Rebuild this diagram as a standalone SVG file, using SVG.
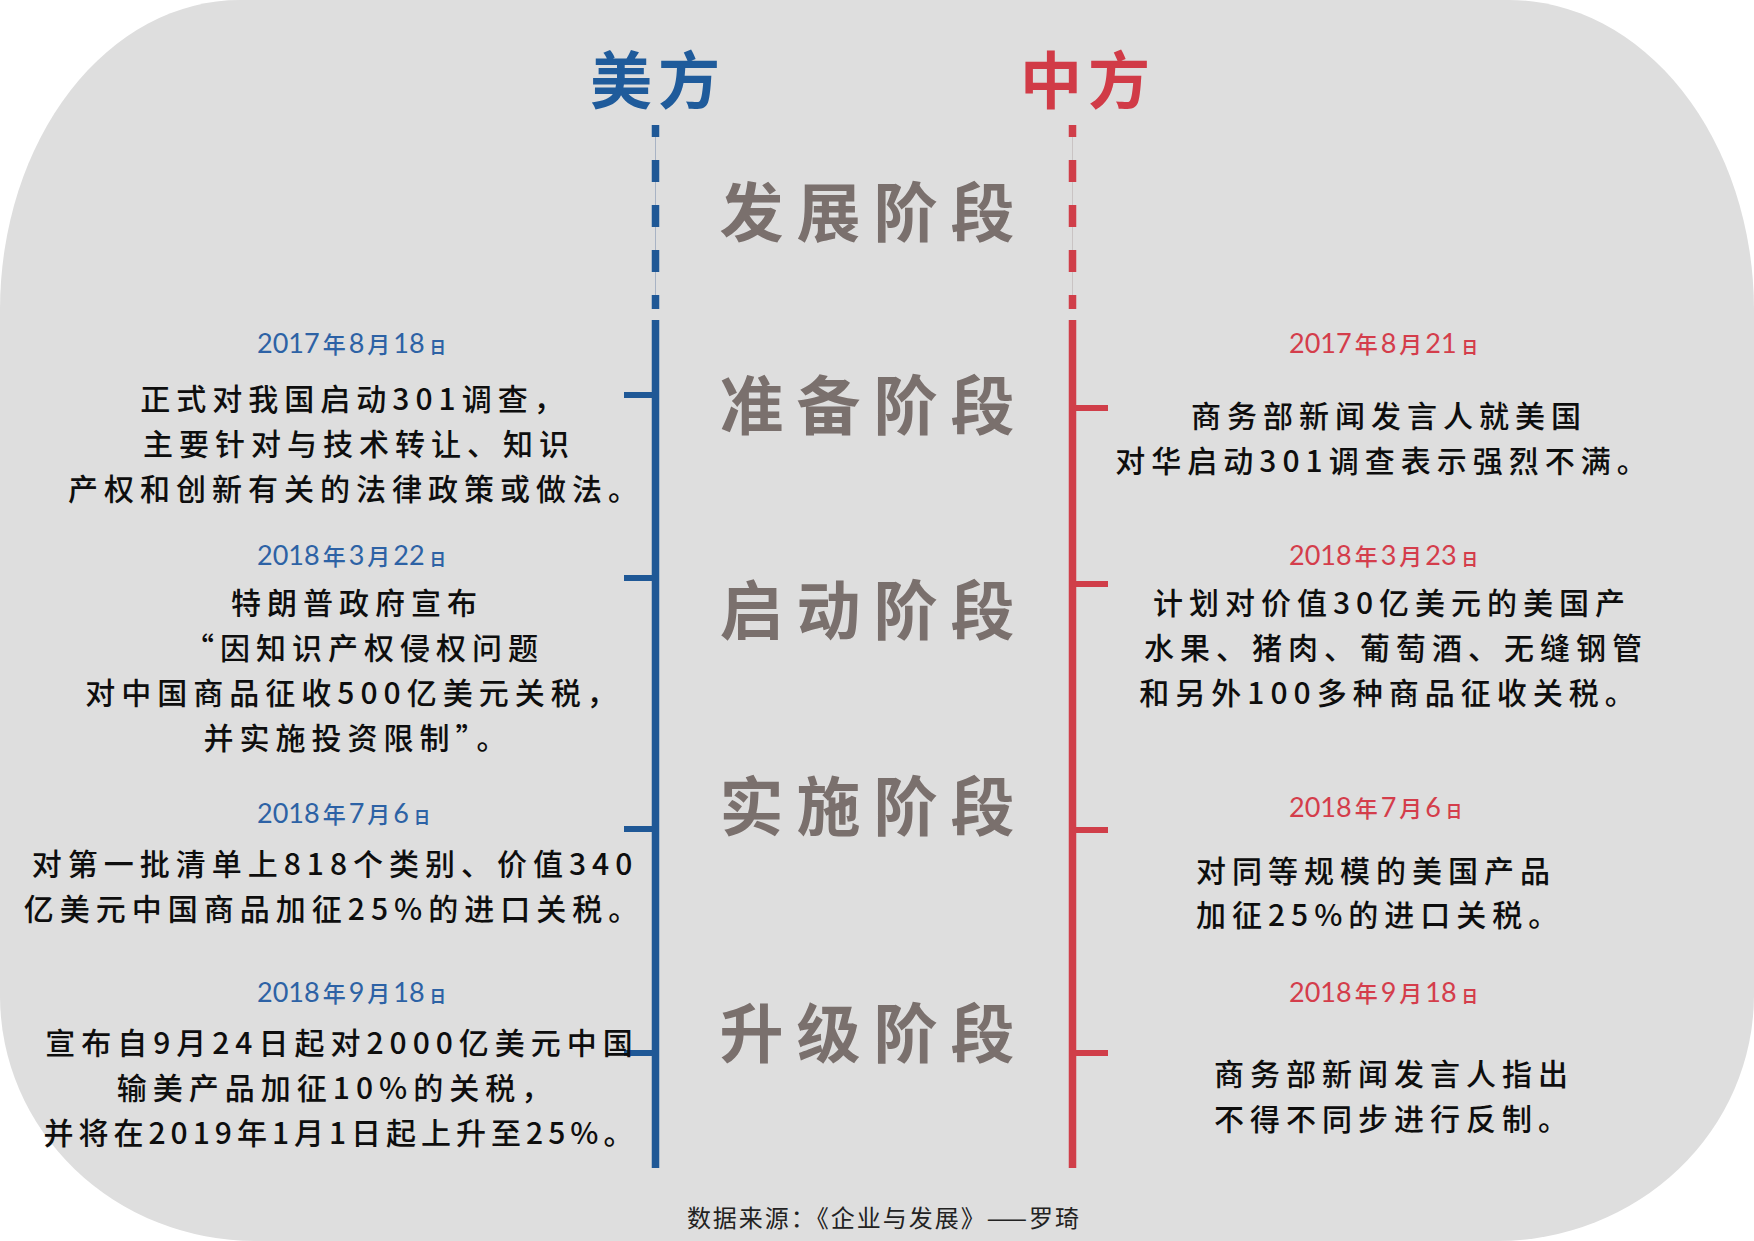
<svg xmlns="http://www.w3.org/2000/svg" width="1754" height="1241" viewBox="0 0 1754 1241">
<style>
.bg{fill:#dedede}
.title{font-family:"Noto Sans CJK SC","Noto Sans",sans-serif;font-size:62px;font-weight:700;letter-spacing:6px;text-anchor:middle}
.stage{font-family:"Noto Sans CJK SC","Noto Sans",sans-serif;font-size:64px;font-weight:700;fill:#7a706d;letter-spacing:13px;text-anchor:middle}
.body{font-family:"Noto Sans CJK SC","Noto Sans",sans-serif;font-size:30px;font-weight:500;fill:#0e0e0e;letter-spacing:6px}
.mid{text-anchor:middle}
.date{font-family:Lato,"Noto Sans CJK SC",sans-serif;font-size:27px}
.dc{font-family:"Noto Sans CJK SC",sans-serif;font-size:23px;font-weight:500}
.dd{font-family:"Noto Sans CJK SC",sans-serif;font-size:16px;font-weight:700}
.blueT{fill:#2d62a5}
.redT{fill:#d43d4b}
.src{font-family:"Noto Sans CJK SC","Noto Sans",sans-serif;font-size:24px;fill:#222;letter-spacing:2px;text-anchor:middle}
.lb{stroke:#1f5896;stroke-width:7.5;fill:none}
.lr{stroke:#d03e49;stroke-width:7.5;fill:none}
.tb{stroke:#1f5896;stroke-width:6}
.tr{stroke:#d03e49;stroke-width:6}
.dash{stroke-dasharray:22 23;stroke-dashoffset:10}
</style>
<path class="bg" d="M240,0 H1509 A245,310 0 0 1 1754,310 V995 A257,246 0 0 1 1497,1241 H255 A255,245 0 0 1 0,996 V310 A240,310 0 0 1 240,0 Z"/>

<g id="connectors">
  <line x1="655.5" y1="125" x2="655.5" y2="309" stroke="#a8b3c4" stroke-width="1"/>
  <line class="lb dash" x1="655.5" y1="125" x2="655.5" y2="309"/>
  <line class="lb" x1="655.5" y1="320" x2="655.5" y2="1168"/>
  <line class="tb" x1="624" y1="395" x2="655" y2="395"/>
  <line class="tb" x1="624" y1="578" x2="655" y2="578"/>
  <line class="tb" x1="624" y1="829" x2="655" y2="829"/>
  <line class="tb" x1="624" y1="1053" x2="655" y2="1053"/>
  <line x1="1072.5" y1="125" x2="1072.5" y2="309" stroke="#c9c3c3" stroke-width="1"/>
  <line class="lr dash" x1="1072.5" y1="125" x2="1072.5" y2="309"/>
  <line class="lr" x1="1072.5" y1="320" x2="1072.5" y2="1168"/>
  <line class="tr" x1="1073" y1="408" x2="1108" y2="408"/>
  <line class="tr" x1="1073" y1="584" x2="1108" y2="584"/>
  <line class="tr" x1="1073" y1="830" x2="1108" y2="830"/>
  <line class="tr" x1="1073" y1="1053" x2="1108" y2="1053"/>
</g>

<g id="title-us"><text class="title" x="658" y="104" fill="#1f5b9b">美方</text></g>
<g id="title-cn"><text class="title" x="1088" y="104" fill="#d13b47">中方</text></g>

<g id="stage-1"><text class="stage" x="873.5" y="236">发展阶段</text></g>
<g id="stage-2"><text class="stage" x="873.5" y="429">准备阶段</text></g>
<g id="stage-3"><text class="stage" x="873.5" y="634">启动阶段</text></g>
<g id="stage-4"><text class="stage" x="873.5" y="830">实施阶段</text></g>
<g id="stage-5"><text class="stage" x="873.5" y="1057">升级阶段</text></g>

<g id="us-1">
  <text class="date blueT" x="257" y="353">2017<tspan class="dc" dx="3">年</tspan><tspan dx="3">8</tspan><tspan class="dc" dx="3">月</tspan><tspan dx="3">18</tspan><tspan class="dd" dx="5">日</tspan></text>
  <text class="body mid" x="355" y="410">正式对我国启动301调查，</text>
  <text class="body mid" x="359" y="455">主要针对与技术转让、知识</text>
  <text class="body mid" x="356" y="500">产权和创新有关的法律政策或做法。</text>
</g>
<g id="us-2">
  <text class="date blueT" x="257" y="565">2018<tspan class="dc" dx="3">年</tspan><tspan dx="3">3</tspan><tspan class="dc" dx="3">月</tspan><tspan dx="3">22</tspan><tspan class="dd" dx="5">日</tspan></text>
  <text class="body mid" x="357" y="614">特朗普政府宣布</text>
  <text class="body mid" x="364" y="659">“因知识产权侵权问题</text>
  <text class="body mid" x="354" y="704">对中国商品征收500亿美元关税，</text>
  <text class="body mid" x="358" y="749">并实施投资限制”。</text>
</g>
<g id="us-3">
  <text class="date blueT" x="257" y="823">2018<tspan class="dc" dx="3">年</tspan><tspan dx="3">7</tspan><tspan class="dc" dx="3">月</tspan><tspan dx="3">6</tspan><tspan class="dd" dx="5">日</tspan></text>
  <text class="body mid" x="335" y="875">对第一批清单上818个类别、价值340</text>
  <text class="body mid" x="334" y="920">亿美元中国商品加征25%的进口关税。</text>
</g>
<g id="us-4">
  <text class="date blueT" x="257" y="1002">2018<tspan class="dc" dx="3">年</tspan><tspan dx="3">9</tspan><tspan class="dc" dx="3">月</tspan><tspan dx="3">18</tspan><tspan class="dd" dx="5">日</tspan></text>
  <text class="body mid" x="342" y="1054">宣布自9月24日起对2000亿美元中国</text>
  <text class="body mid" x="337" y="1099">输美产品加征10%的关税，</text>
  <text class="body mid" x="341" y="1144" style="letter-spacing:5px">并将在2019年1月1日起上升至25%。</text>
</g>

<g id="cn-1">
  <text class="date redT" x="1289" y="353">2017<tspan class="dc" dx="3">年</tspan><tspan dx="3">8</tspan><tspan class="dc" dx="3">月</tspan><tspan dx="3">21</tspan><tspan class="dd" dx="5">日</tspan></text>
  <text class="body mid" x="1389" y="427">商务部新闻发言人就美国</text>
  <text class="body mid" x="1384" y="472">对华启动301调查表示强烈不满。</text>
</g>
<g id="cn-2">
  <text class="date redT" x="1289" y="565">2018<tspan class="dc" dx="3">年</tspan><tspan dx="3">3</tspan><tspan class="dc" dx="3">月</tspan><tspan dx="3">23</tspan><tspan class="dd" dx="5">日</tspan></text>
  <text class="body mid" x="1392" y="614">计划对价值30亿美元的美国产</text>
  <text class="body mid" x="1396" y="659">水果、猪肉、葡萄酒、无缝钢管</text>
  <text class="body mid" x="1390" y="704">和另外100多种商品征收关税。</text>
</g>
<g id="cn-3">
  <text class="date redT" x="1289" y="817">2018<tspan class="dc" dx="3">年</tspan><tspan dx="3">7</tspan><tspan class="dc" dx="3">月</tspan><tspan dx="3">6</tspan><tspan class="dd" dx="5">日</tspan></text>
  <text class="body" x="1196" y="882">对同等规模的美国产品</text>
  <text class="body" x="1196" y="926">加征25%的进口关税。</text>
</g>
<g id="cn-4">
  <text class="date redT" x="1289" y="1002">2018<tspan class="dc" dx="3">年</tspan><tspan dx="3">9</tspan><tspan class="dc" dx="3">月</tspan><tspan dx="3">18</tspan><tspan class="dd" dx="5">日</tspan></text>
  <text class="body" x="1214" y="1085">商务部新闻发言人指出</text>
  <text class="body" x="1214" y="1130">不得不同步进行反制。</text>
</g>

<g id="source"><text class="src" x="884" y="1227">数据来源：《企业与发展》——罗琦</text></g>
</svg>
